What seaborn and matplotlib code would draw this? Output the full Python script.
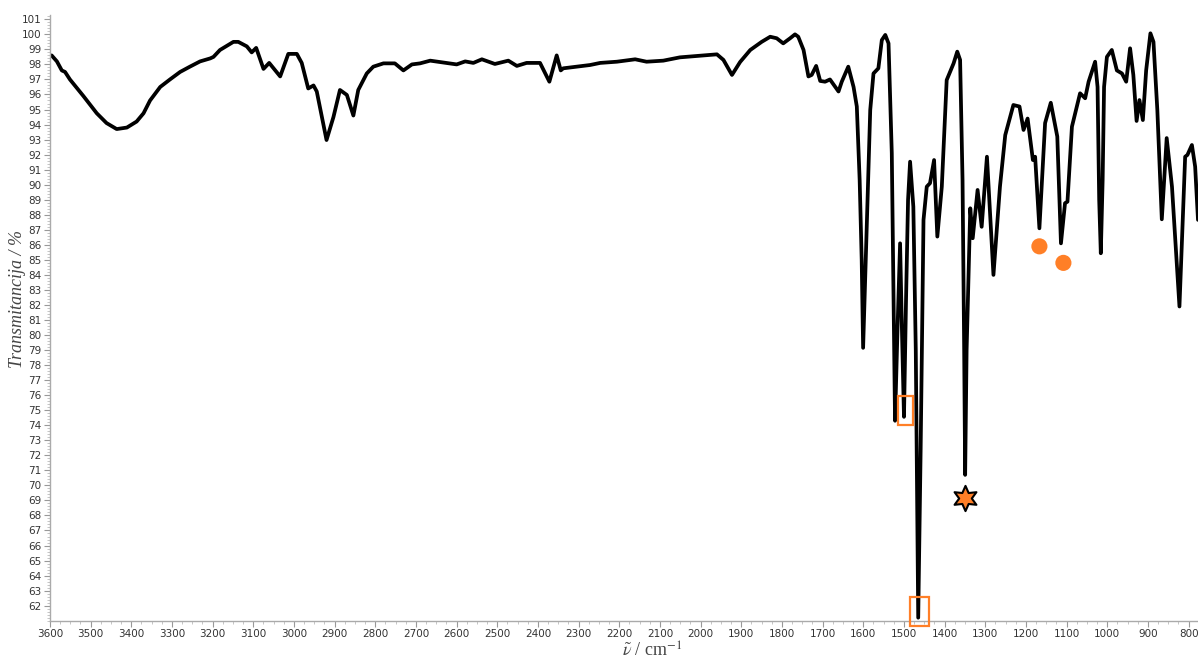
import numpy as np
import pandas as pd
import seaborn as sns
import matplotlib.pyplot as plt
from matplotlib.patches import Rectangle
from matplotlib.ticker import MultipleLocator

# IR spectrum (wavenumber in cm-1, transmittance in %)
wavenumber = [
    3596, 3583, 3571, 3563, 3551, 3518, 3485, 3461, 3436, 3411,
    3387, 3370, 3354, 3329, 3305, 3280, 3256, 3231, 3206, 3198,
    3182, 3149, 3137, 3116, 3104, 3093, 3075, 3061, 3034, 3014,
    2993, 2981, 2965, 2952, 2944, 2920, 2903, 2887, 2870, 2854,
    2842, 2821, 2805, 2780, 2752, 2731, 2710, 2690, 2665, 2641,
    2600, 2579, 2559, 2538, 2506, 2473, 2452, 2428, 2395, 2372,
    2354, 2344, 2338, 2272, 2247, 2206, 2161, 2133, 2092, 2051,
    1993, 1960, 1944, 1923, 1903, 1878, 1850, 1829, 1813, 1797,
    1780, 1768, 1760, 1747, 1735, 1727, 1716, 1706, 1694, 1682,
    1661, 1653, 1637, 1624, 1616, 1609, 1604, 1600.5, 1597, 1591,
    1583, 1575, 1563, 1554.5, 1546, 1538, 1530, 1525.5, 1522, 1516,
    1509.6, 1505, 1500, 1495, 1490, 1485, 1477, 1471, 1465, 1459,
    1452, 1444, 1436, 1426, 1418, 1407, 1395, 1378, 1369, 1362,
    1356, 1352, 1349.6, 1346, 1337, 1331, 1319, 1309, 1296, 1280,
    1264, 1251, 1231, 1216, 1206, 1196, 1183, 1177.5, 1167, 1153,
    1139, 1123, 1114, 1104, 1098, 1087, 1067, 1054.5, 1046, 1030,
    1024, 1020, 1016, 1011.5, 1008, 1001, 989, 976.5, 964, 953.6,
    944, 936, 928, 921, 912.6, 904.5, 894, 886.5, 877, 866,
    854, 841, 822.6, 808.6, 803, 792, 784, 777,
]
transmittance = [
    98.6, 98.2, 97.6, 97.5, 97.0, 95.9, 94.75, 94.1, 93.7, 93.8,
    94.2, 94.75, 95.6, 96.5, 97.0, 97.5, 97.85, 98.2, 98.4, 98.5,
    98.96, 99.5, 99.5, 99.2, 98.8, 99.1, 97.7, 98.1, 97.2, 98.7,
    98.7, 98.1, 96.4, 96.6, 96.2, 92.97, 94.5, 96.3, 95.97, 94.6,
    96.3, 97.4, 97.85, 98.07, 98.07, 97.6, 98.0, 98.07, 98.25, 98.16,
    98.0, 98.2, 98.1, 98.34, 98.03, 98.25, 97.9, 98.1, 98.1, 96.85,
    98.6, 97.6, 97.74, 97.96, 98.1, 98.18, 98.34, 98.18, 98.25, 98.47,
    98.6, 98.67, 98.3, 97.3, 98.16, 98.96, 99.5, 99.84, 99.74, 99.4,
    99.74, 100.0, 99.84, 98.96, 97.2, 97.3, 97.9, 96.9, 96.85, 97.0,
    96.2, 96.85, 97.85, 96.5, 95.2, 90.3, 85.0, 79.15, 82.3, 87.66,
    94.97, 97.4, 97.74, 99.62, 99.96, 99.4, 92.1, 82.3, 74.3, 80.3,
    86.1, 80.3, 74.56, 82.3, 88.99, 91.53, 88.54, 79.0, 61.2, 72.4,
    87.66, 89.87, 90.1, 91.64, 86.55, 89.87, 96.96, 98.07, 98.85, 98.3,
    90.3, 79.0, 70.7, 79.0, 88.43, 86.44, 89.65, 87.2, 91.86, 84.0,
    89.87, 93.3, 95.3, 95.2, 93.64, 94.4, 91.64, 91.86, 87.1, 94.1,
    95.45, 93.2, 86.1, 88.77, 88.87, 93.86, 96.08, 95.75, 96.85, 98.18,
    96.5, 89.0, 85.44, 90.3, 96.5, 98.5, 98.96, 97.6, 97.4, 96.85,
    99.07, 97.3, 94.24, 95.63, 94.3, 97.6, 100.07, 99.5, 94.97, 87.7,
    93.1, 89.87, 81.9, 91.86, 91.98, 92.64, 91.2, 87.66,
]

# annotation marks
circle_wn = [1167, 1108]
circle_t = [85.9, 84.8]
star_wn = [1350]
star_t = [69.15]
box_wn = [1497, 1462]
box_t = [75.0, 61.6]
box_w = [36, 45]
box_h = [1.95, 1.9]

df = pd.DataFrame({'wn': wavenumber, 'T': transmittance})

sns.set_style("white")
plt.rcParams['mathtext.fontset'] = 'stix'

fig = plt.figure(figsize=(11.98, 6.6), dpi=100)
ax = fig.add_axes([50 / 1198, 39.3 / 660, 1 - 50 / 1198, 605.9 / 660])

sns.lineplot(x='wn', y='T', data=df, sort=False, estimator=None,
             color='black', lw=2.7, ax=ax,
             solid_joinstyle='round', solid_capstyle='round')

orange = '#ff7f27'
sns.scatterplot(x=circle_wn, y=circle_t, color=orange, s=135,
                edgecolor='none', ax=ax, zorder=4)
sns.scatterplot(x=star_wn, y=star_t, color=orange, marker=(6, 1, 0), s=330,
                edgecolor='black', linewidth=1.5, ax=ax, zorder=4)
for cx, cy, w, h in zip(box_wn, box_t, box_w, box_h):
    ax.add_patch(Rectangle((cx - w / 2, cy - h / 2), w, h, fill=False,
                           edgecolor=orange, lw=1.6, clip_on=False, zorder=5))

ax.set_xlim(3600, 777)
ax.set_ylim(61.0, 101.3)
ax.set_xticks(range(800, 3601, 100))
ax.set_yticks(range(62, 102))
ax.xaxis.set_minor_locator(MultipleLocator(25))
ax.yaxis.set_minor_locator(MultipleLocator(0.2))

ax.tick_params(which='major', direction='out', length=4, width=0.8,
               color='#999999', labelsize=7.5, labelcolor='#333333', pad=2)
ax.tick_params(which='minor', direction='out', length=2, width=0.6,
               color='#bbbbbb')
ax.tick_params(axis='both', which='both', bottom=True, left=True)

for side in ['top', 'right']:
    ax.spines[side].set_visible(False)
for side in ['left', 'bottom']:
    ax.spines[side].set_color('#aaaaaa')
    ax.spines[side].set_linewidth(1.0)

ax.set_xlabel('')
ax.set_ylabel('')
fig.text(18 / 1198, (660 - 299) / 660, 'Transmitancija / %', rotation=90,
         ha='center', va='center', fontsize=13, style='italic',
         family='Liberation Serif', color='#444444')
fig.text(652 / 1198, (660 - 651) / 660, r'$\tilde{\nu}$ / cm$^{-1}$',
         ha='center', va='center', fontsize=13, family='Liberation Serif',
         color='#444444')

fig.savefig('out.png', dpi=100)
